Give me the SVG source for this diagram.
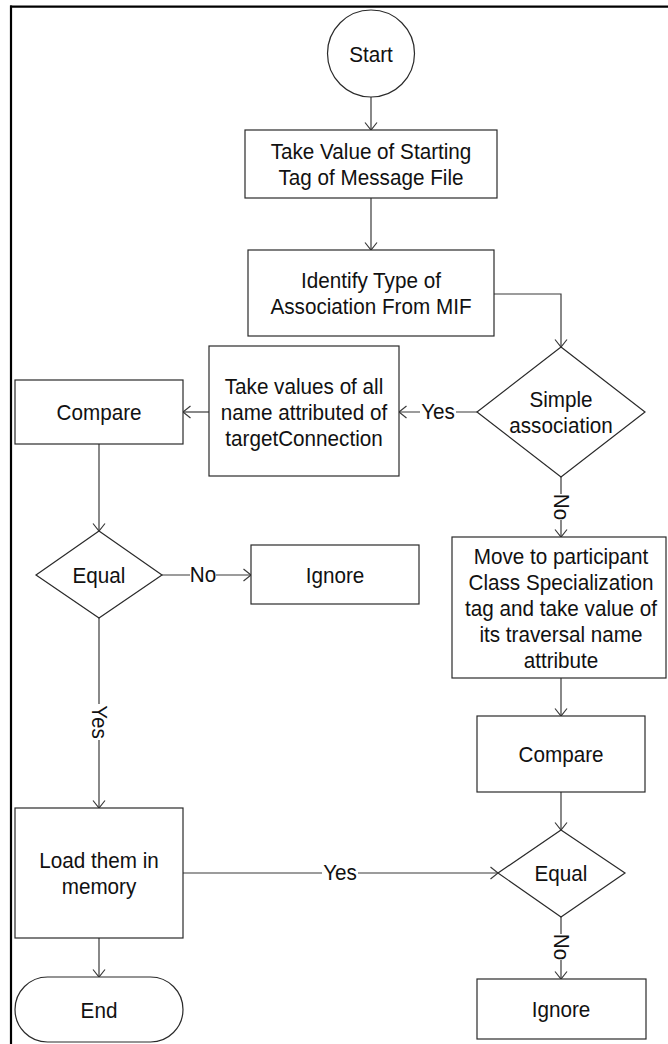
<svg xmlns="http://www.w3.org/2000/svg" width="668" height="1044" viewBox="0 0 668 1044">
  <style>
    .shape { fill: #ffffff; stroke: #2a2a2a; stroke-width: 1.2; }
    .edge { fill: none; stroke: #3a3a3a; stroke-width: 1.2; }
    .t { font-family: "Liberation Sans", Arial, sans-serif; font-size: 22px; fill: #111111; text-anchor: middle; }
    .lbl { font-family: "Liberation Sans", Arial, sans-serif; font-size: 22px; fill: #111111; text-anchor: middle; dominant-baseline: central; }
    .bg { fill: #ffffff; stroke: none; }
  </style>
  <defs>
    <marker id="arrow" viewBox="-9 -7 11 14" refX="0" refY="0" markerWidth="11" markerHeight="14" markerUnits="userSpaceOnUse" orient="auto">
      <path d="M-7.5,-6 L0,0 L-7.5,6" fill="none" stroke="#3a3a3a" stroke-width="1.2"/>
    </marker>
  </defs>

  <rect width="668" height="1044" fill="#ffffff"/>

  <!-- page frame (top and left edges) -->
  <g id="frame">
    <line x1="10" y1="6.7" x2="668" y2="6.7" stroke="#000" stroke-width="2.2"/>
    <line x1="11" y1="5.6" x2="11" y2="1044" stroke="#000" stroke-width="2.2"/>
  </g>

  <!-- connectors -->
  <g id="connectors">
    <path class="edge" d="M371,97 V130" marker-end="url(#arrow)"/>
    <path class="edge" d="M371,198 V250" marker-end="url(#arrow)"/>
    <path class="edge" d="M494,294 H561 V347" marker-end="url(#arrow)"/>
    <path class="edge" d="M477,412 H399" marker-end="url(#arrow)"/>
    <path class="edge" d="M209,412 H183" marker-end="url(#arrow)"/>
    <path class="edge" d="M99,444 V531" marker-end="url(#arrow)"/>
    <path class="edge" d="M162,575 H251" marker-end="url(#arrow)"/>
    <path class="edge" d="M99,618 V808" marker-end="url(#arrow)"/>
    <path class="edge" d="M561,477 V537" marker-end="url(#arrow)"/>
    <path class="edge" d="M561,678 V716" marker-end="url(#arrow)"/>
    <path class="edge" d="M561,792 V830" marker-end="url(#arrow)"/>
    <path class="edge" d="M183,873 H498" marker-end="url(#arrow)"/>
    <path class="edge" d="M561,917 V979" marker-end="url(#arrow)"/>
    <path class="edge" d="M99,938 V977" marker-end="url(#arrow)"/>

    <!-- connector labels (narrow lettering) -->
    <rect class="bg" x="420" y="402" width="36" height="20"/>
    <text class="lbl" transform="translate(438 412) scale(0.94 1)">Yes</text>
    <rect class="bg" x="190" y="565" width="26" height="20"/>
    <text class="lbl" transform="translate(203 575) scale(0.94 1)">No</text>
    <rect class="bg" x="89" y="704" width="20" height="36"/>
    <text class="lbl" transform="translate(99 722) rotate(90) scale(0.94 1)">Yes</text>
    <rect class="bg" x="551" y="494" width="20" height="26"/>
    <text class="lbl" transform="translate(561 507) rotate(90) scale(0.94 1)">No</text>
    <rect class="bg" x="322" y="863" width="36" height="20"/>
    <text class="lbl" transform="translate(340 873) scale(0.94 1)">Yes</text>
    <rect class="bg" x="551" y="934" width="20" height="26"/>
    <text class="lbl" transform="translate(561 947) rotate(90) scale(0.94 1)">No</text>
  </g>

  <g id="start">
    <circle class="shape" cx="371" cy="53.5" r="43.5"/>
    <text class="t" transform="translate(371 61.5) scale(0.94 1)">Start</text>
  </g>

  <g id="take-starting-tag">
    <rect class="shape" x="245" y="130" width="252" height="68"/>
    <text class="t" transform="translate(371 159) scale(0.94 1)">Take Value of Starting</text>
    <text class="t" transform="translate(371 185) scale(0.94 1)">Tag of Message File</text>
  </g>

  <g id="identify-association">
    <rect class="shape" x="248" y="250" width="246" height="86"/>
    <text class="t" transform="translate(371 288) scale(0.94 1)">Identify Type of</text>
    <text class="t" transform="translate(371 314) scale(0.94 1)">Association From MIF</text>
  </g>

  <g id="simple-association">
    <polygon class="shape" points="561,347 645,412 561,477 477,412"/>
    <text class="t" transform="translate(561 407) scale(0.94 1)">Simple</text>
    <text class="t" transform="translate(561 433) scale(0.94 1)">association</text>
  </g>

  <g id="take-target-names">
    <rect class="shape" x="209" y="346" width="190" height="130"/>
    <text class="t" transform="translate(304 394) scale(0.94 1)">Take values of all</text>
    <text class="t" transform="translate(304 420) scale(0.94 1)">name attributed of</text>
    <text class="t" transform="translate(304 446) scale(0.94 1)">targetConnection</text>
  </g>

  <g id="compare-left">
    <rect class="shape" x="15" y="380" width="168" height="64"/>
    <text class="t" transform="translate(99 420) scale(0.94 1)">Compare</text>
  </g>

  <g id="equal-left">
    <polygon class="shape" points="99,531 162,575 99,618 36,575"/>
    <text class="t" transform="translate(99 583) scale(0.94 1)">Equal</text>
  </g>

  <g id="ignore-left">
    <rect class="shape" x="251" y="545" width="168" height="59"/>
    <text class="t" transform="translate(335 582.5) scale(0.94 1)">Ignore</text>
  </g>

  <g id="load-memory">
    <rect class="shape" x="15" y="808" width="168" height="130"/>
    <text class="t" transform="translate(99 868) scale(0.94 1)">Load them in</text>
    <text class="t" transform="translate(99 894) scale(0.94 1)">memory</text>
  </g>

  <g id="end">
    <rect class="shape" x="15" y="977" width="168" height="65" rx="32.5" ry="32.5"/>
    <text class="t" transform="translate(99 1017.5) scale(0.94 1)">End</text>
  </g>

  <g id="move-participant">
    <rect class="shape" x="452" y="537" width="214" height="141"/>
    <text class="t" transform="translate(561 563.5) scale(0.94 1)">Move to participant</text>
    <text class="t" transform="translate(561 589.5) scale(0.94 1)">Class Specialization</text>
    <text class="t" transform="translate(561 615.5) scale(0.94 1)">tag and take value of</text>
    <text class="t" transform="translate(561 641.5) scale(0.94 1)">its traversal name</text>
    <text class="t" transform="translate(561 667.5) scale(0.94 1)">attribute</text>
  </g>

  <g id="compare-right">
    <rect class="shape" x="477" y="716" width="168" height="76"/>
    <text class="t" transform="translate(561 762) scale(0.94 1)">Compare</text>
  </g>

  <g id="equal-right">
    <polygon class="shape" points="561,830 625,873 561,917 498,873"/>
    <text class="t" transform="translate(561 881) scale(0.94 1)">Equal</text>
  </g>

  <g id="ignore-right">
    <rect class="shape" x="477" y="979" width="169" height="60"/>
    <text class="t" transform="translate(561 1017) scale(0.94 1)">Ignore</text>
  </g>
</svg>
